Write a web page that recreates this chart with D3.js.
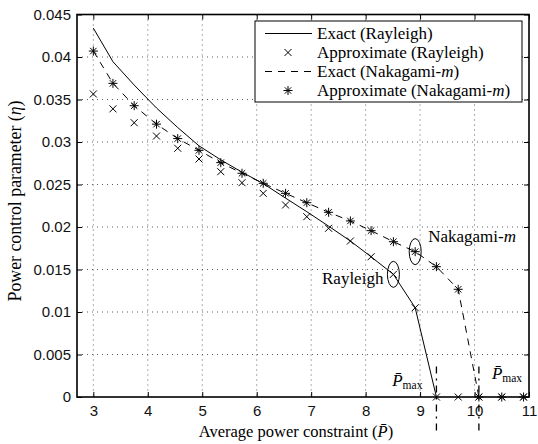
<!DOCTYPE html>
<html>
<head>
<meta charset="utf-8">
<script src="https://cdn.jsdelivr.net/npm/d3@7"></script>
<style>
  body { margin: 0; background: #fff; }
  svg { display: block; }
</style>
</head>
<body>
<svg width="538" height="444"></svg>
<script>
// average power constraint values where the curves were evaluated
var powerValues = [3, 3.36, 3.75, 4.16, 4.55, 4.94, 5.34, 5.73, 6.12, 6.53, 6.92,
                   7.32, 7.72, 8.10, 8.51, 8.91, 9.30, 9.70, 10.08, 10.50, 10.90];
// exact rayleigh curve (drops to zero at P max)
var exactRayleigh = [0.0434, 0.03945, 0.0367, 0.0340, 0.0317, 0.02955, 0.0279, 0.02645,
                     0.0251, 0.0234, 0.0218, 0.0201, 0.01835, 0.0165, 0.01443, 0.0105, 0];
// approximate rayleigh (x markers)
var approxRayleigh = [0.03565, 0.0339, 0.03227, 0.0307, 0.02926, 0.0280, 0.02651, 0.02521,
                      0.02396, 0.02259, 0.02121, 0.01985, 0.01835, 0.0165, 0.01443, 0.0105,
                      0, 0, 0, 0, 0];
// exact nakagami-m curve (dashed)
var exactNakagami = [0.0407, 0.0369, 0.03427, 0.0321, 0.0304, 0.02902, 0.02757, 0.02632,
                     0.02514, 0.02396, 0.02286, 0.02173, 0.02071, 0.01957, 0.01827, 0.0171,
                     0.01533, 0.01267, 0];
// approximate nakagami-m (asterisk markers)
var approxNakagami = [0.0407, 0.0369, 0.03427, 0.0321, 0.0304, 0.02902, 0.02757, 0.02632,
                      0.02514, 0.02396, 0.02286, 0.02173, 0.02071, 0.01957, 0.01827, 0.0171,
                      0.01533, 0.01267, 0, 0, 0];
// P max for each fading model
var pmaxValues = [9.30, 10.08];
// ticks
var xTicks = [3, 4, 5, 6, 7, 8, 9, 10, 11];
var yTicks = [0, 0.005, 0.01, 0.015, 0.02, 0.025, 0.03, 0.035, 0.04, 0.045];
var yTickLabels = ["0", "0.005", "0.01", "0.015", "0.02", "0.025", "0.03", "0.035", "0.04", "0.045"];
var legendLabels = ["Exact (Rayleigh)", "Approximate (Rayleigh)", "Exact (Nakagami-", "Approximate (Nakagami-"];

var serifFont = "'Liberation Serif', 'DejaVu Serif', serif";
var sansFont = "'Liberation Sans', Arial, sans-serif";

var drawChart = function()
{
  let svg = d3.select("body").select("svg");
  let width = 538;
  let height = 444;
  let margin = { top: 14.5, right: 9, bottom: 47, left: 77 };
  let plotWidth = width - margin.left - margin.right;
  let plotHeight = height - margin.top - margin.bottom;

  let xScale = d3.scaleLinear().domain([2.7, 11]).range([0, plotWidth]);
  let yScale = d3.scaleLinear().domain([0, 0.045]).range([plotHeight, 0]);

  let plot = svg.append("g")
    .attr("transform", "translate(" + margin.left + "," + margin.top + ")");

  // helper for serif text
  let serifText = function(parent, size) {
    return parent.append("text")
      .style("font-family", serifFont)
      .style("font-size", size + "px")
      .attr("fill", "#000");
  };

  // dotted grid
  let grid = plot.append("g").attr("id", "grid");
  grid.selectAll("line.vx")
    .data(xTicks.filter(function(d) { return d < 11; }))
    .enter().append("line")
    .attr("x1", function(d) { return xScale(d); })
    .attr("x2", function(d) { return xScale(d); })
    .attr("y1", 0).attr("y2", plotHeight);
  grid.selectAll("line.hy")
    .data(yTicks.filter(function(d) { return d > 0 && d < 0.045; }))
    .enter().append("line")
    .attr("x1", 0).attr("x2", plotWidth)
    .attr("y1", function(d) { return yScale(d); })
    .attr("y2", function(d) { return yScale(d); });
  grid.selectAll("line")
    .attr("stroke", "#333")
    .attr("stroke-width", 0.8)
    .attr("stroke-dasharray", "1,4");

  // axes: ticks inward on all four sides
  let xAxis = d3.axisBottom(xScale).tickValues(xTicks).tickFormat(d3.format("d"))
    .tickSizeInner(-5).tickSizeOuter(0).tickPadding(8);
  let yAxis = d3.axisLeft(yScale).tickValues(yTicks)
    .tickFormat(function(d, i) { return yTickLabels[i]; })
    .tickSizeInner(-5).tickSizeOuter(0).tickPadding(6);
  let xTop = d3.axisTop(xScale).tickValues(xTicks).tickFormat("").tickSizeInner(-5).tickSizeOuter(0);
  let yRight = d3.axisRight(yScale).tickValues(yTicks).tickFormat("").tickSizeInner(-5).tickSizeOuter(0);

  plot.append("g").attr("transform", "translate(0," + plotHeight + ")").call(xAxis);
  plot.append("g").call(yAxis);
  plot.append("g").call(xTop);
  plot.append("g").attr("transform", "translate(" + plotWidth + ",0)").call(yRight);
  plot.selectAll(".domain").remove();
  plot.selectAll(".tick line").attr("stroke", "#000").attr("stroke-width", 1);
  plot.selectAll(".tick text")
    .style("font-family", sansFont)
    .style("font-size", "15px")
    .attr("fill", "#111");

  // frame
  plot.append("rect")
    .attr("width", plotWidth).attr("height", plotHeight)
    .attr("fill", "none").attr("stroke", "#000").attr("stroke-width", 1.6);

  // curves
  let line = d3.line()
    .x(function(d) { return xScale(d[0]); })
    .y(function(d) { return yScale(d[1]); });

  let rayPts = exactRayleigh.map(function(v, i) { return [powerValues[i], v]; });
  let nakPts = exactNakagami.map(function(v, i) { return [powerValues[i], v]; });

  plot.append("path").attr("d", line(rayPts))
    .attr("fill", "none").attr("stroke", "#000").attr("stroke-width", 1);
  plot.append("path").attr("d", line(nakPts))
    .attr("fill", "none").attr("stroke", "#000").attr("stroke-width", 1)
    .attr("stroke-dasharray", "7,6");

  // markers
  let crossPath = "M-3.5,-3.5L3.5,3.5M-3.5,3.5L3.5,-3.5";
  let starPath = "M-4.5,0H4.5M0,-4.5V4.5M-3.2,-3.2L3.2,3.2M-3.2,3.2L3.2,-3.2";

  plot.selectAll("path.cross")
    .data(approxRayleigh)
    .enter().append("path")
    .attr("class", "cross")
    .attr("d", crossPath)
    .attr("transform", function(d, i) {
      return "translate(" + xScale(powerValues[i]) + "," + yScale(d) + ")";
    })
    .attr("fill", "none").attr("stroke", "#000").attr("stroke-width", 1);

  plot.selectAll("path.star")
    .data(approxNakagami)
    .enter().append("path")
    .attr("class", "star")
    .attr("d", starPath)
    .attr("transform", function(d, i) {
      return "translate(" + xScale(powerValues[i]) + "," + yScale(d) + ")";
    })
    .attr("fill", "none").attr("stroke", "#000").attr("stroke-width", 1);

  // P max dash-dot markers, running below the axis
  plot.selectAll("line.pmax")
    .data(pmaxValues)
    .enter().append("line")
    .attr("class", "pmax")
    .attr("x1", function(d) { return xScale(d); })
    .attr("x2", function(d) { return xScale(d); })
    .attr("y1", yScale(0.0036))
    .attr("y2", yScale(-0.0042))
    .attr("stroke", "#000").attr("stroke-width", 1.3)
    .attr("stroke-dasharray", "7,5,2,5");

  // ellipses round the labelled points
  let rayIdx = 14;
  let nakIdx = 15;
  plot.append("ellipse")
    .attr("cx", xScale(powerValues[rayIdx])).attr("cy", yScale(approxRayleigh[rayIdx]))
    .attr("rx", 6).attr("ry", 13)
    .attr("fill", "none").attr("stroke", "#000").attr("stroke-width", 1);
  plot.append("ellipse")
    .attr("cx", xScale(powerValues[nakIdx])).attr("cy", yScale(approxNakagami[nakIdx]))
    .attr("rx", 6).attr("ry", 13)
    .attr("fill", "none").attr("stroke", "#000").attr("stroke-width", 1);

  serifText(plot, 17)
    .attr("x", xScale(powerValues[rayIdx]) - 10)
    .attr("y", yScale(approxRayleigh[rayIdx]) + 10)
    .attr("text-anchor", "end")
    .text("Rayleigh");

  let nakText = serifText(plot, 17)
    .attr("x", xScale(powerValues[nakIdx]) + 13)
    .attr("y", yScale(approxNakagami[nakIdx]) - 10);
  nakText.append("tspan").text("Nakagami-");
  nakText.append("tspan").style("font-style", "italic").text("m");

  // P max labels
  let pmaxLabel = function(x, y, anchor) {
    let t = serifText(plot, 17)
      .attr("x", x).attr("y", y)
      .attr("text-anchor", anchor);
    t.append("tspan").style("font-style", "italic").text("P\u0304");
    t.append("tspan").attr("dy", 3).style("font-size", "11.5px").text("max");
  };
  pmaxLabel(xScale(pmaxValues[0]) - 14, yScale(0) - 11, "end");
  pmaxLabel(xScale(pmaxValues[1]) + 13, yScale(0) - 18, "start");

  // legend
  let legend = plot.append("g")
    .attr("transform", "translate(" + (255 - margin.left) + "," + (21 - margin.top) + ")");
  legend.append("rect")
    .attr("width", 267).attr("height", 81)
    .attr("fill", "#fff").attr("stroke", "#000").attr("stroke-width", 1);
  let rowY = [12.5, 31.5, 50.5, 69.5];
  legend.append("line").attr("x1", 10).attr("x2", 57).attr("y1", rowY[0]).attr("y2", rowY[0])
    .attr("stroke", "#000").attr("stroke-width", 1);
  legend.append("path").attr("d", crossPath)
    .attr("transform", "translate(33," + rowY[1] + ")")
    .attr("fill", "none").attr("stroke", "#000");
  legend.append("line").attr("x1", 10).attr("x2", 57).attr("y1", rowY[2]).attr("y2", rowY[2])
    .attr("stroke", "#000").attr("stroke-width", 1).attr("stroke-dasharray", "7,6");
  legend.append("path").attr("d", starPath)
    .attr("transform", "translate(33," + rowY[3] + ")")
    .attr("fill", "none").attr("stroke", "#000");
  legendLabels.forEach(function(label, i) {
    let t = serifText(legend, 17)
      .attr("x", 62).attr("y", rowY[i]).attr("dy", "0.35em");
    t.append("tspan").text(label);
    if (i >= 2) {
      t.append("tspan").style("font-style", "italic").text("m");
      t.append("tspan").text(")");
    }
  });

  // axis titles
  let xLabel = serifText(plot, 16.5)
    .attr("x", 296 - margin.left).attr("y", 437 - margin.top)
    .attr("text-anchor", "middle");
  xLabel.append("tspan").text("Average power constraint (");
  xLabel.append("tspan").style("font-style", "italic").text("P\u0304");
  xLabel.append("tspan").text(")");

  let yLabel = serifText(plot, 17.8)
    .attr("transform", "translate(" + (21 - margin.left) + "," + (201 - margin.top) + ") rotate(-90)")
    .attr("text-anchor", "middle");
  yLabel.append("tspan").text("Power control parameter (");
  yLabel.append("tspan").style("font-style", "italic").text("\u03b7");
  yLabel.append("tspan").text(")");
};

drawChart();
</script>
</body>
</html>
